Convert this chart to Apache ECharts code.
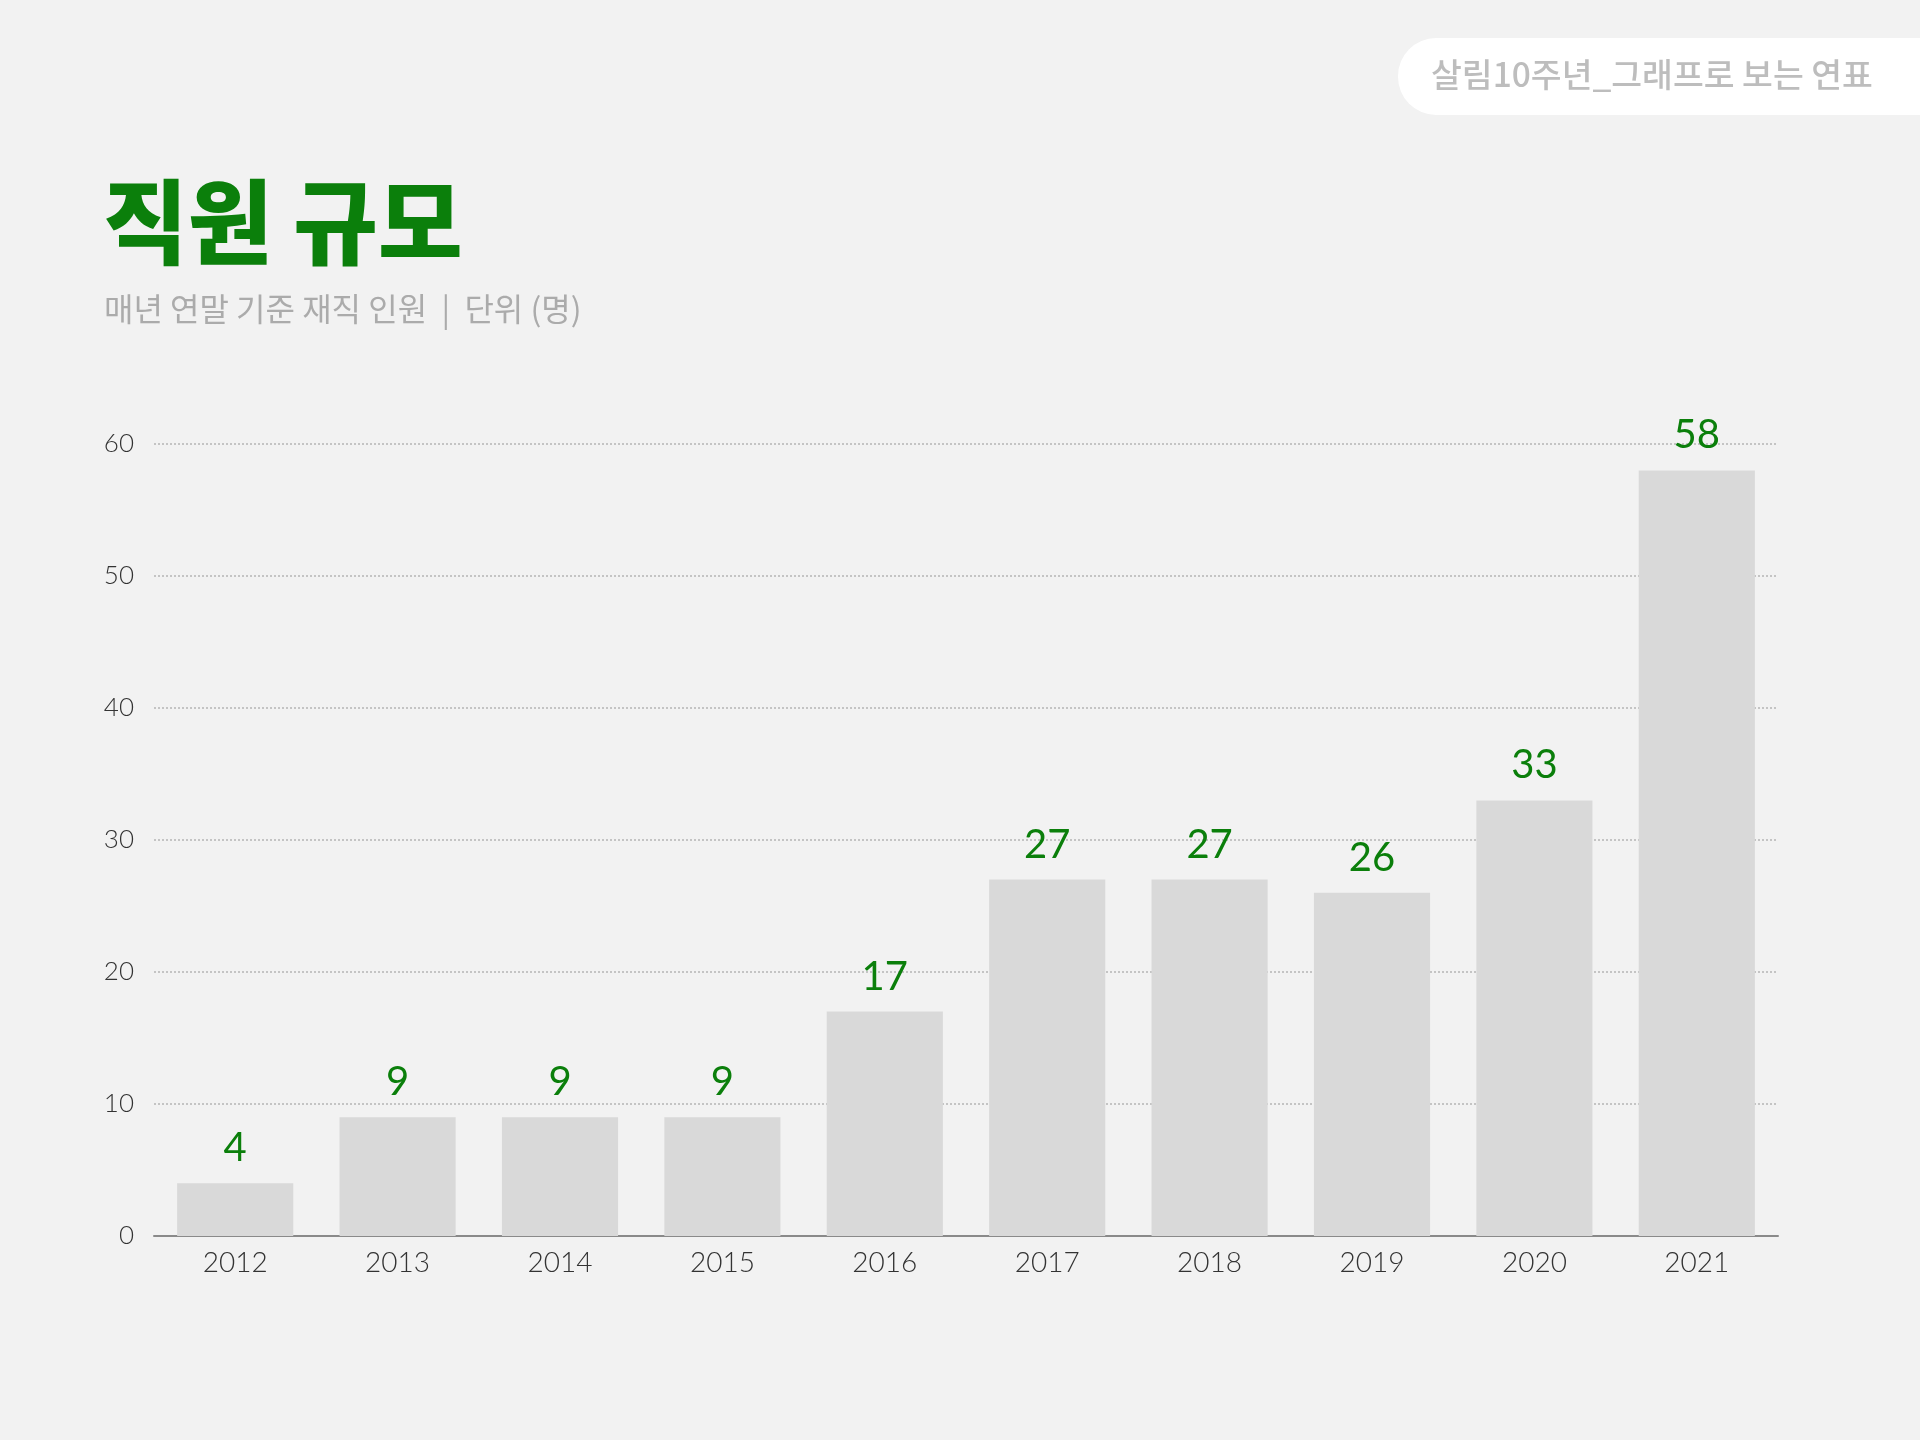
<!DOCTYPE html>
<html>
<head>
<meta charset="utf-8">
<script src="https://cdn.jsdelivr.net/npm/echarts@6/dist/echarts.min.js"></script>
<style>
  html, body { margin: 0; padding: 0; background: #f2f2f2; }
  #chart { width: 1920px; height: 1440px; }
</style>
</head>
<body>
<div id="chart"></div>
<script>
  // 연도별 재직 인원
  const years = ['2012', '2013', '2014', '2015', '2016', '2017', '2018', '2019', '2020', '2021']
  const staff = [4, 9, 9, 9, 17, 27, 27, 26, 33, 58]
  const yTicks = { min: 0, max: 60, interval: 10 }

  const green = '#0b7f0b'
  const numFont = 'Lato, "Noto Sans", sans-serif'
  const krFont = '"Noto Sans CJK KR", "Noto Sans", sans-serif'

  const myChart = echarts.init(document.getElementById('chart'))

  const option = {
    backgroundColor: '#f2f2f2',
    animation: false,
    graphic: [
      {
        type: 'rect',
        shape: { x: 1398, y: 38, width: 600, height: 77, r: 38 },
        style: { fill: '#ffffff' }
      },
      {
        type: 'text',
        left: 1431,
        top: 58,
        style: {
          text: '살림10주년_그래프로 보는 연표',
          font: '500 33.5px ' + krFont,
          fill: '#bdbdbd'
        }
      },
      {
        type: 'text',
        left: 103,
        top: 176,
        style: {
          text: '직원 규모',
          font: '900 92px ' + krFont,
          fill: green
        }
      },
      {
        type: 'text',
        left: 104,
        top: 293,
        style: {
          text: '매년 연말 기준 재직 인원  |  단위 (명)',
          font: '400 32px ' + krFont,
          fill: '#ababab'
        }
      }
    ],
    grid: {
      left: 154,
      right: 142,
      top: 444,
      bottom: 204,
      containLabel: false
    },
    xAxis: {
      type: 'category',
      data: years,
      axisLine: { lineStyle: { color: '#8a8a8a', width: 2 } },
      axisTick: { show: false },
      axisLabel: {
        margin: 13,
        fontFamily: numFont,
        fontWeight: 300,
        fontSize: 28,
        color: '#333'
      }
    },
    yAxis: {
      type: 'value',
      min: yTicks.min,
      max: yTicks.max,
      interval: yTicks.interval,
      axisLine: { show: false },
      axisTick: { show: false },
      axisLabel: {
        margin: 20,
        fontFamily: numFont,
        fontWeight: 300,
        fontSize: 26,
        color: '#333'
      },
      splitLine: {
        lineStyle: { color: '#b5b5b5', type: [2, 2], width: 1.5 }
      }
    },
    series: [
      {
        type: 'bar',
        data: staff,
        barCategoryGap: '28.5%',
        itemStyle: { color: '#d9d9d9' },
        label: {
          show: true,
          position: 'top',
          distance: 15,
          fontFamily: numFont,
          fontWeight: 400,
          fontSize: 40,
          color: green
        }
      }
    ]
  }

  myChart.setOption(option)
</script>
</body>
</html>
